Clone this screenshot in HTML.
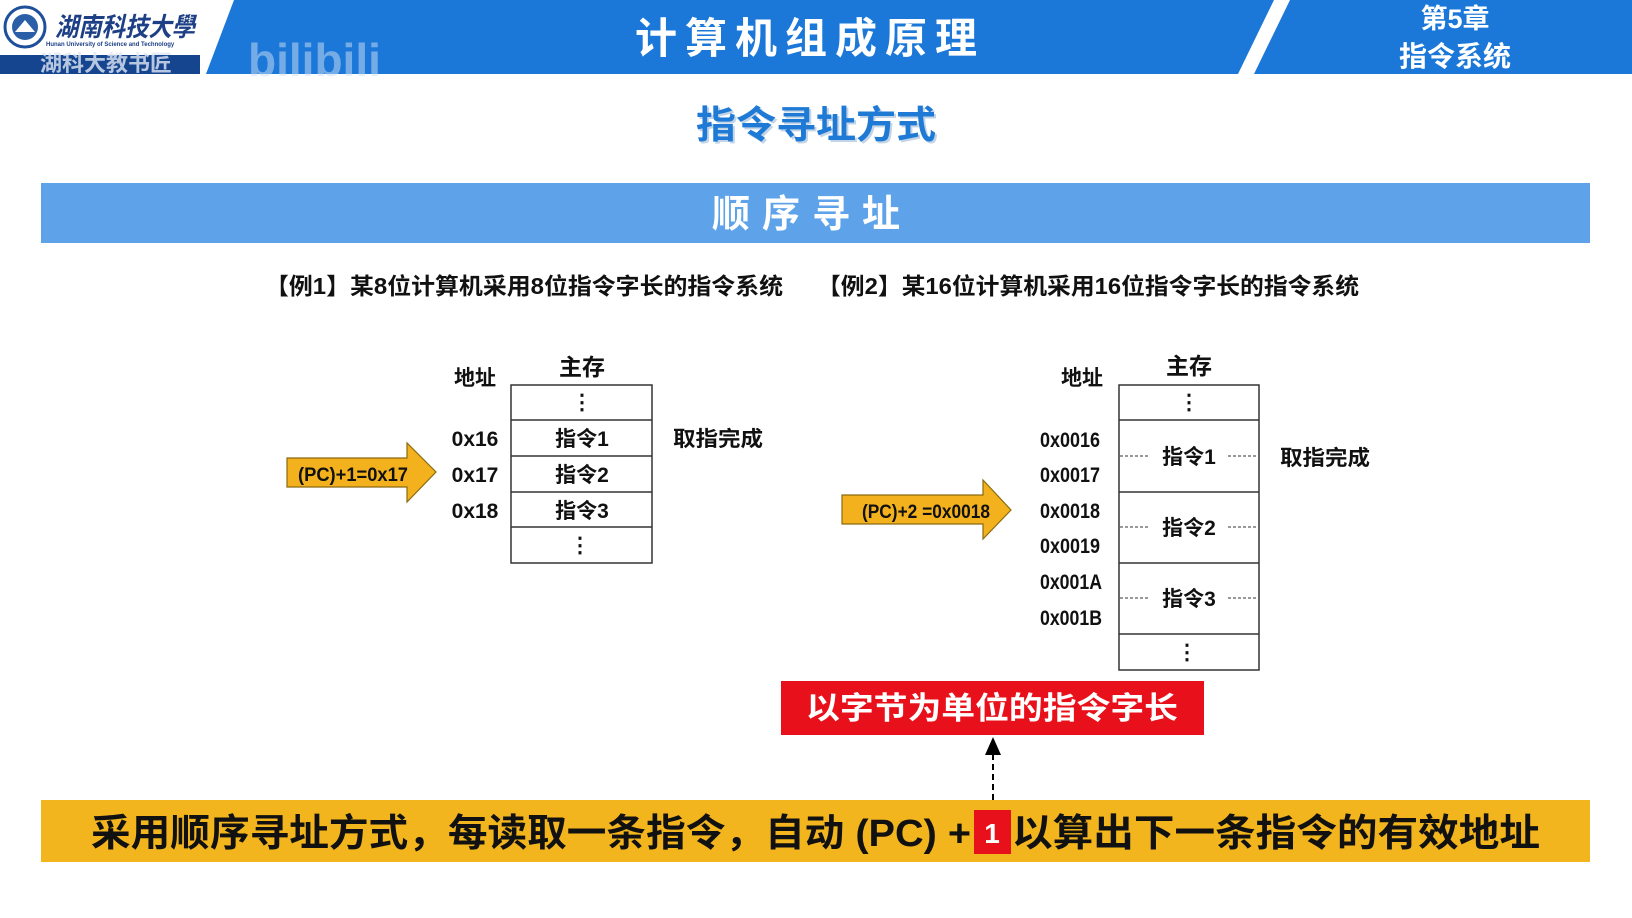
<!DOCTYPE html>
<html><head><meta charset="utf-8"><style>
html,body{margin:0;padding:0;background:#fff;}
svg{display:block;}
text{font-family:"Liberation Sans","Noto Sans CJK SC",sans-serif;font-weight:bold;}
</style></head><body>
<svg width="1632" height="918" viewBox="0 0 1632 918" xmlns="http://www.w3.org/2000/svg">
<defs>
<marker id="ah" markerWidth="10" markerHeight="10" refX="5" refY="5" orient="auto"><path d="M0,1 L9,5 L0,9 z" fill="#000"/></marker>
</defs>
<!-- header -->
<rect x="0" y="0" width="1632" height="74" fill="#1b78d8"/>
<polygon points="0,0 234,0 206,74 0,74" fill="#fff"/>
<rect x="0" y="55" width="200" height="19" fill="#16458f"/>
<circle cx="25" cy="27" r="20" fill="#fff" stroke="#1e4f9a" stroke-width="3"/>
<circle cx="25" cy="27" r="13" fill="#2a5fa8"/>
<polygon points="15,32 25,20 35,32" fill="#fff"/>
<text x="55" y="36" font-size="26" fill="#1d3f86" font-style="italic" textLength="140" lengthAdjust="spacingAndGlyphs">湖南科技大學</text>
<text x="46" y="46" font-size="6" fill="#1d3f86" font-weight="normal">Hunan University of Science and Technology</text>
<text x="40" y="71" font-size="22" fill="#e0e8f5" opacity="0.8">湖科大教书匠</text>
<text x="248" y="76" font-size="46" fill="#cfe1f5" opacity="0.5" font-family="Liberation Sans,sans-serif">bilibili</text>
<polygon points="1274,0 1290,0 1254,74 1238,74" fill="#fff"/>
<text x="810" y="53" font-size="42" fill="#fff" text-anchor="middle" letter-spacing="8">计算机组成原理</text>
<text x="1455" y="28" font-size="27" fill="#fff" text-anchor="middle">第5章</text>
<text x="1455" y="66" font-size="28" fill="#fff" text-anchor="middle">指令系统</text>

<!-- subtitle -->
<text x="818" y="140" font-size="38" fill="#9bb8d6" text-anchor="middle" textLength="240" lengthAdjust="spacingAndGlyphs" opacity="0.6">指令寻址方式</text>
<text x="816" y="138" font-size="38" fill="#1f7ad6" text-anchor="middle" textLength="240" lengthAdjust="spacingAndGlyphs">指令寻址方式</text>

<rect x="41" y="183" width="1549" height="60" fill="#5ea3e9"/>
<text x="812" y="227" font-size="38" fill="#fff" text-anchor="middle" letter-spacing="12">顺序寻址</text>

<text x="265" y="294" font-size="23" fill="#111" textLength="518" lengthAdjust="spacingAndGlyphs">【例1】某8位计算机采用8位指令字长的指令系统</text>
<text x="817" y="294" font-size="23" fill="#111" textLength="542" lengthAdjust="spacingAndGlyphs">【例2】某16位计算机采用16位指令字长的指令系统</text>

<!-- left diagram -->
<g font-size="21" fill="#111">
<text x="582" y="375" text-anchor="middle" font-size="23">主存</text>
<text x="475" y="385" text-anchor="middle">地址</text>
<text x="475" y="446" text-anchor="middle" font-weight="normal">0x16</text>
<text x="475" y="482" text-anchor="middle" font-weight="normal">0x17</text>
<text x="475" y="518" text-anchor="middle" font-weight="normal">0x18</text>
<text x="718" y="446" text-anchor="middle" textLength="90" lengthAdjust="spacingAndGlyphs">取指完成</text>
</g>
<g fill="none" stroke="#333" stroke-width="1.5">
<rect x="511" y="385" width="141" height="178"/>
<line x1="511" y1="420" x2="652" y2="420"/>
<line x1="511" y1="456" x2="652" y2="456"/>
<line x1="511" y1="492" x2="652" y2="492"/>
<line x1="511" y1="527" x2="652" y2="527"/>
</g>
<g font-size="21" fill="#111" text-anchor="middle">
<text x="582" y="409" font-weight="normal">⋮</text>
<text x="582" y="446">指令1</text>
<text x="582" y="482">指令2</text>
<text x="582" y="518">指令3</text>
<text x="580" y="552" font-weight="normal">⋮</text>
</g>
<polygon points="287,458 407,458 407,443 436,472 407,502 407,487 287,487" fill="#f3b21d" stroke="#8a6a10" stroke-width="1.2"/>
<text x="353" y="481" font-size="19" fill="#111" text-anchor="middle" textLength="110" lengthAdjust="spacingAndGlyphs">(PC)+1=0x17</text>

<!-- right diagram -->
<g font-size="21" fill="#111">
<text x="1189" y="374" text-anchor="middle" font-size="23">主存</text>
<text x="1082" y="385" text-anchor="middle">地址</text>
<g font-weight="normal" text-anchor="start">
<text x="1040" y="447" textLength="60" lengthAdjust="spacingAndGlyphs">0x0016</text>
<text x="1040" y="482" textLength="60" lengthAdjust="spacingAndGlyphs">0x0017</text>
<text x="1040" y="518" textLength="60" lengthAdjust="spacingAndGlyphs">0x0018</text>
<text x="1040" y="553" textLength="60" lengthAdjust="spacingAndGlyphs">0x0019</text>
<text x="1040" y="589" textLength="62" lengthAdjust="spacingAndGlyphs">0x001A</text>
<text x="1040" y="625" textLength="62" lengthAdjust="spacingAndGlyphs">0x001B</text>
</g>
<text x="1280" y="465" textLength="90" lengthAdjust="spacingAndGlyphs">取指完成</text>
</g>
<g fill="none" stroke="#333" stroke-width="1.5">
<rect x="1119" y="385" width="140" height="285"/>
<line x1="1119" y1="420" x2="1259" y2="420"/>
<line x1="1119" y1="492" x2="1259" y2="492"/>
<line x1="1119" y1="563" x2="1259" y2="563"/>
<line x1="1119" y1="634" x2="1259" y2="634"/>
</g>
<g stroke="#333" stroke-width="1" stroke-dasharray="3,2">
<line x1="1120" y1="456" x2="1149" y2="456"/><line x1="1228" y1="456" x2="1258" y2="456"/>
<line x1="1120" y1="527" x2="1149" y2="527"/><line x1="1228" y1="527" x2="1258" y2="527"/>
<line x1="1120" y1="598" x2="1149" y2="598"/><line x1="1228" y1="598" x2="1258" y2="598"/>
</g>
<g font-size="21" fill="#111" text-anchor="middle">
<text x="1189" y="409" font-weight="normal">⋮</text>
<text x="1189" y="464">指令1</text>
<text x="1189" y="535">指令2</text>
<text x="1189" y="606">指令3</text>
<text x="1187" y="659" font-weight="normal">⋮</text>
</g>
<polygon points="842,495 983,495 983,480 1011,510 983,539 983,524 842,524" fill="#f3b21d" stroke="#8a6a10" stroke-width="1.2"/>
<text x="926" y="518" font-size="19" fill="#111" text-anchor="middle" textLength="128" lengthAdjust="spacingAndGlyphs">(PC)+2 =0x0018</text>

<!-- red box -->
<rect x="781" y="681" width="423" height="54" fill="#e8101a"/>
<text x="992" y="719" font-size="31" fill="#fff" text-anchor="middle" textLength="372" lengthAdjust="spacingAndGlyphs">以字节为单位的指令字长</text>
<line x1="993" y1="800" x2="993" y2="745" stroke="#000" stroke-width="2" stroke-dasharray="6,4" marker-end="url(#ah)"/>

<!-- bottom band -->
<rect x="41" y="800" width="1549" height="62" fill="#f2b51d"/>
<rect x="974" y="810" width="37" height="44" fill="#e8101a"/>
<text x="91" y="846" font-size="38" fill="#111" textLength="880" lengthAdjust="spacingAndGlyphs">采用顺序寻址方式，每读取一条指令，自动 (PC) +</text>
<text x="992" y="843" font-size="28" fill="#fff" text-anchor="middle" font-weight="normal">1</text>
<text x="1012" y="846" font-size="38" fill="#111" textLength="528" lengthAdjust="spacingAndGlyphs">以算出下一条指令的有效地址</text>
</svg>
</body></html>
